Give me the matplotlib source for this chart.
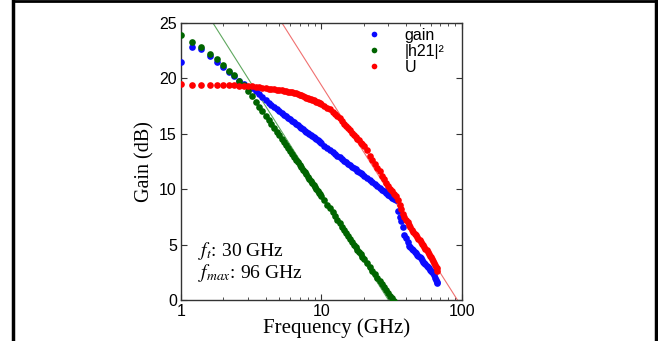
import numpy as np
import matplotlib
matplotlib.use("Agg")
import matplotlib.pyplot as plt
from matplotlib.ticker import FixedLocator, LogLocator, NullFormatter, FuncFormatter
from matplotlib.lines import Line2D

# frequency sweep (GHz)
freq = np.concatenate([np.arange(1.0, 10.01, 0.2),
                       np.arange(10.5, 20.01, 0.5),
                       np.arange(21.0, 67.1, 1.0)]).round(2)

gain = [21.5, 22.8, 22.6, 22.0, 21.5, 21.0, 20.6, 20.2, 19.8, 19.5,
        19.2, 19.1, 18.85, 18.55, 18.3, 18.05, 17.8, 17.6, 17.4, 17.2,
        17.05, 16.89, 16.73, 16.58, 16.43, 16.29, 16.15, 16.02, 15.89, 15.76,
        15.64, 15.52, 15.41, 15.29, 15.19, 15.08, 14.97, 14.87, 14.77, 14.68,
        14.58, 14.49, 14.40, 14.31, 14.22, 14.14,
        13.93, 13.74, 13.55, 13.37, 13.20, 13.03, 12.87, 12.72, 12.57, 12.43,
        12.29, 12.16, 12.03, 11.90, 11.78, 11.66, 11.55, 11.43, 11.33, 11.22,
        11.01, 10.82, 10.63, 10.45, 10.28, 10.11, 9.95, 9.80, 9.65, 9.51,
        9.37, 9.24, 9.11, 8.98, 8.0, 7.5, 7.1, 6.6, 5.9, 5.6,
        5.2, 4.9, 4.8, 4.6, 4.5, 4.35, 4.25, 4.1, 4.0, 3.9,
        3.75, 3.6, 3.45, 3.35, 3.25, 3.1, 3.0, 2.9, 2.75, 2.6,
        2.5, 2.4, 2.3, 2.0, 1.85, 1.6, 1.5]

h21 = [23.9, 23.3, 22.8, 22.2, 21.7, 21.2, 20.7, 20.3, 19.8, 19.4,
       18.88, 18.37, 17.89, 17.44, 17.02, 16.61, 16.23, 15.86, 15.50, 15.17,
       14.85, 14.54, 14.24, 13.95, 13.67, 13.40, 13.15, 12.89, 12.65, 12.42,
       12.19, 11.96, 11.75, 11.54, 11.33, 11.13, 10.94, 10.75, 10.56, 10.38,
       10.20, 10.03, 9.86, 9.69, 9.53, 9.37,
       8.98, 8.61, 8.26, 7.93, 7.58, 7.25, 6.94, 6.63, 6.33, 6.04,
       5.76, 5.50, 5.25, 5.0, 4.77, 4.55, 4.33, 4.12, 3.92, 3.73,
       3.35, 3.0, 2.66, 2.35, 2.03, 1.73, 1.45, 1.18, 0.92, 0.66,
       0.41, 0.16, -0.07, -0.31]

U = [19.5, 19.4, 19.4, 19.4, 19.4, 19.4, 19.4, 19.4, 19.35, 19.35,
     19.3, 19.3, 19.25, 19.2, 19.15, 19.1, 19.05, 19.0, 19.0, 18.95,
     18.9, 18.9, 18.85, 18.85, 18.8, 18.8, 18.75, 18.7, 18.65, 18.6,
     18.5, 18.45, 18.4, 18.35, 18.25, 18.2, 18.15, 18.1, 18.05, 18.0,
     17.95, 17.9, 17.85, 17.8, 17.75, 17.65,
     17.5, 17.35, 17.2, 17.0, 16.8, 16.6, 16.4, 16.15, 15.9, 15.7,
     15.5, 15.3, 15.1, 14.9, 14.7, 14.55, 14.4, 14.2, 14.05, 13.9,
     13.55, 13.0, 12.6, 12.25, 11.9, 11.6, 11.2, 10.9, 10.55, 10.3,
     10.0, 9.8, 9.6, 9.4, 9.0, 8.6, 8.2, 7.8, 7.5, 7.2,
     7.0, 6.8, 6.6, 6.35, 6.15, 6.0, 5.85, 5.7, 5.55, 5.4,
     5.25, 5.1, 4.95, 4.8, 4.65, 4.5, 4.35, 4.2, 4.0, 3.85,
     3.7, 3.5, 3.35, 3.2, 3.0, 2.85, 2.6]

# -20 dB/dec extrapolation lines (0 dB crossing, GHz)
ft_cross = 30
fmax_cross = 93

plt.rcParams["mathtext.fontset"] = "stix"

fig = plt.figure(figsize=(6.58, 3.41), dpi=100)
ax = fig.add_axes([0.275, 0.12, 0.427, 0.813])

fl = np.array([1, 100])
ax.plot(fl, 20 * np.log10(ft_cross / fl), color="#5fa85f", lw=0.8, zorder=2)
ax.plot(fl, 20 * np.log10(fmax_cross / fl), color="#f07070", lw=0.8, zorder=2)

ms = 4.8
ax.plot(freq, gain, "o", color="#0a0aff", ms=ms, mec="none", label="gain", zorder=3)
ax.plot(freq[:len(h21)], h21, "o", color="#006400", ms=ms, mec="none",
        label="|h21|²", zorder=3)
ax.plot(freq, U, "o", color="#ff0000", ms=ms, mec="none", label="U", zorder=3)

ax.set_xscale("log")
ax.set_xlim(1, 100)
ax.set_ylim(0, 25)
ax.yaxis.set_major_locator(FixedLocator([0, 5, 10, 15, 20, 25]))
ax.xaxis.set_major_locator(FixedLocator([1, 10, 100]))
ax.xaxis.set_major_formatter(FuncFormatter(lambda v, p: "%g" % v))
ax.xaxis.set_minor_locator(LogLocator(base=10, subs=np.arange(2, 10)))
ax.xaxis.set_minor_formatter(NullFormatter())
ax.tick_params(which="both", direction="in", top=True, right=True,
               labelsize=11.5, colors="#333333", labelcolor="black")
ax.tick_params(which="major", length=4, pad=3)
ax.tick_params(which="minor", length=2.5)
for t in ax.get_xticklabels() + ax.get_yticklabels():
    t.set_family("Liberation Sans")
for s in ax.spines.values():
    s.set_color("#333333")
    s.set_linewidth(1.0)

ax.set_xlabel("Frequency (GHz)", family="Liberation Serif", fontsize=15, labelpad=-1)
ax.xaxis.set_label_coords(0.553, -0.065)
ax.set_ylabel("Gain (dB)", family="Liberation Serif", fontsize=14.5, labelpad=3)

ax.text(1.33, 4.0, "$f_t$: 30 GHz", family="Liberation Serif", fontsize=14)
ax.text(1.33, 2.0, "$f_{max}$: 96 GHz", family="Liberation Serif", fontsize=14)

leg = ax.legend(loc="upper right", frameon=False, handletextpad=0.9,
                borderaxespad=0.1, labelspacing=0.05, markerscale=0.85,
                prop={"family": "Liberation Sans", "size": 11.5},
                bbox_to_anchor=(0.965, 1.01))

# page border
fig.add_artist(Line2D([13 / 658, 13 / 658], [0, 1], color="black", lw=2.5))
fig.add_artist(Line2D([656 / 658, 656 / 658], [0, 1], color="black", lw=2.5))
fig.add_artist(Line2D([13 / 658, 656 / 658], [1 - 1 / 341, 1 - 1 / 341], color="black", lw=2))

fig.savefig("out.png", dpi=100)
